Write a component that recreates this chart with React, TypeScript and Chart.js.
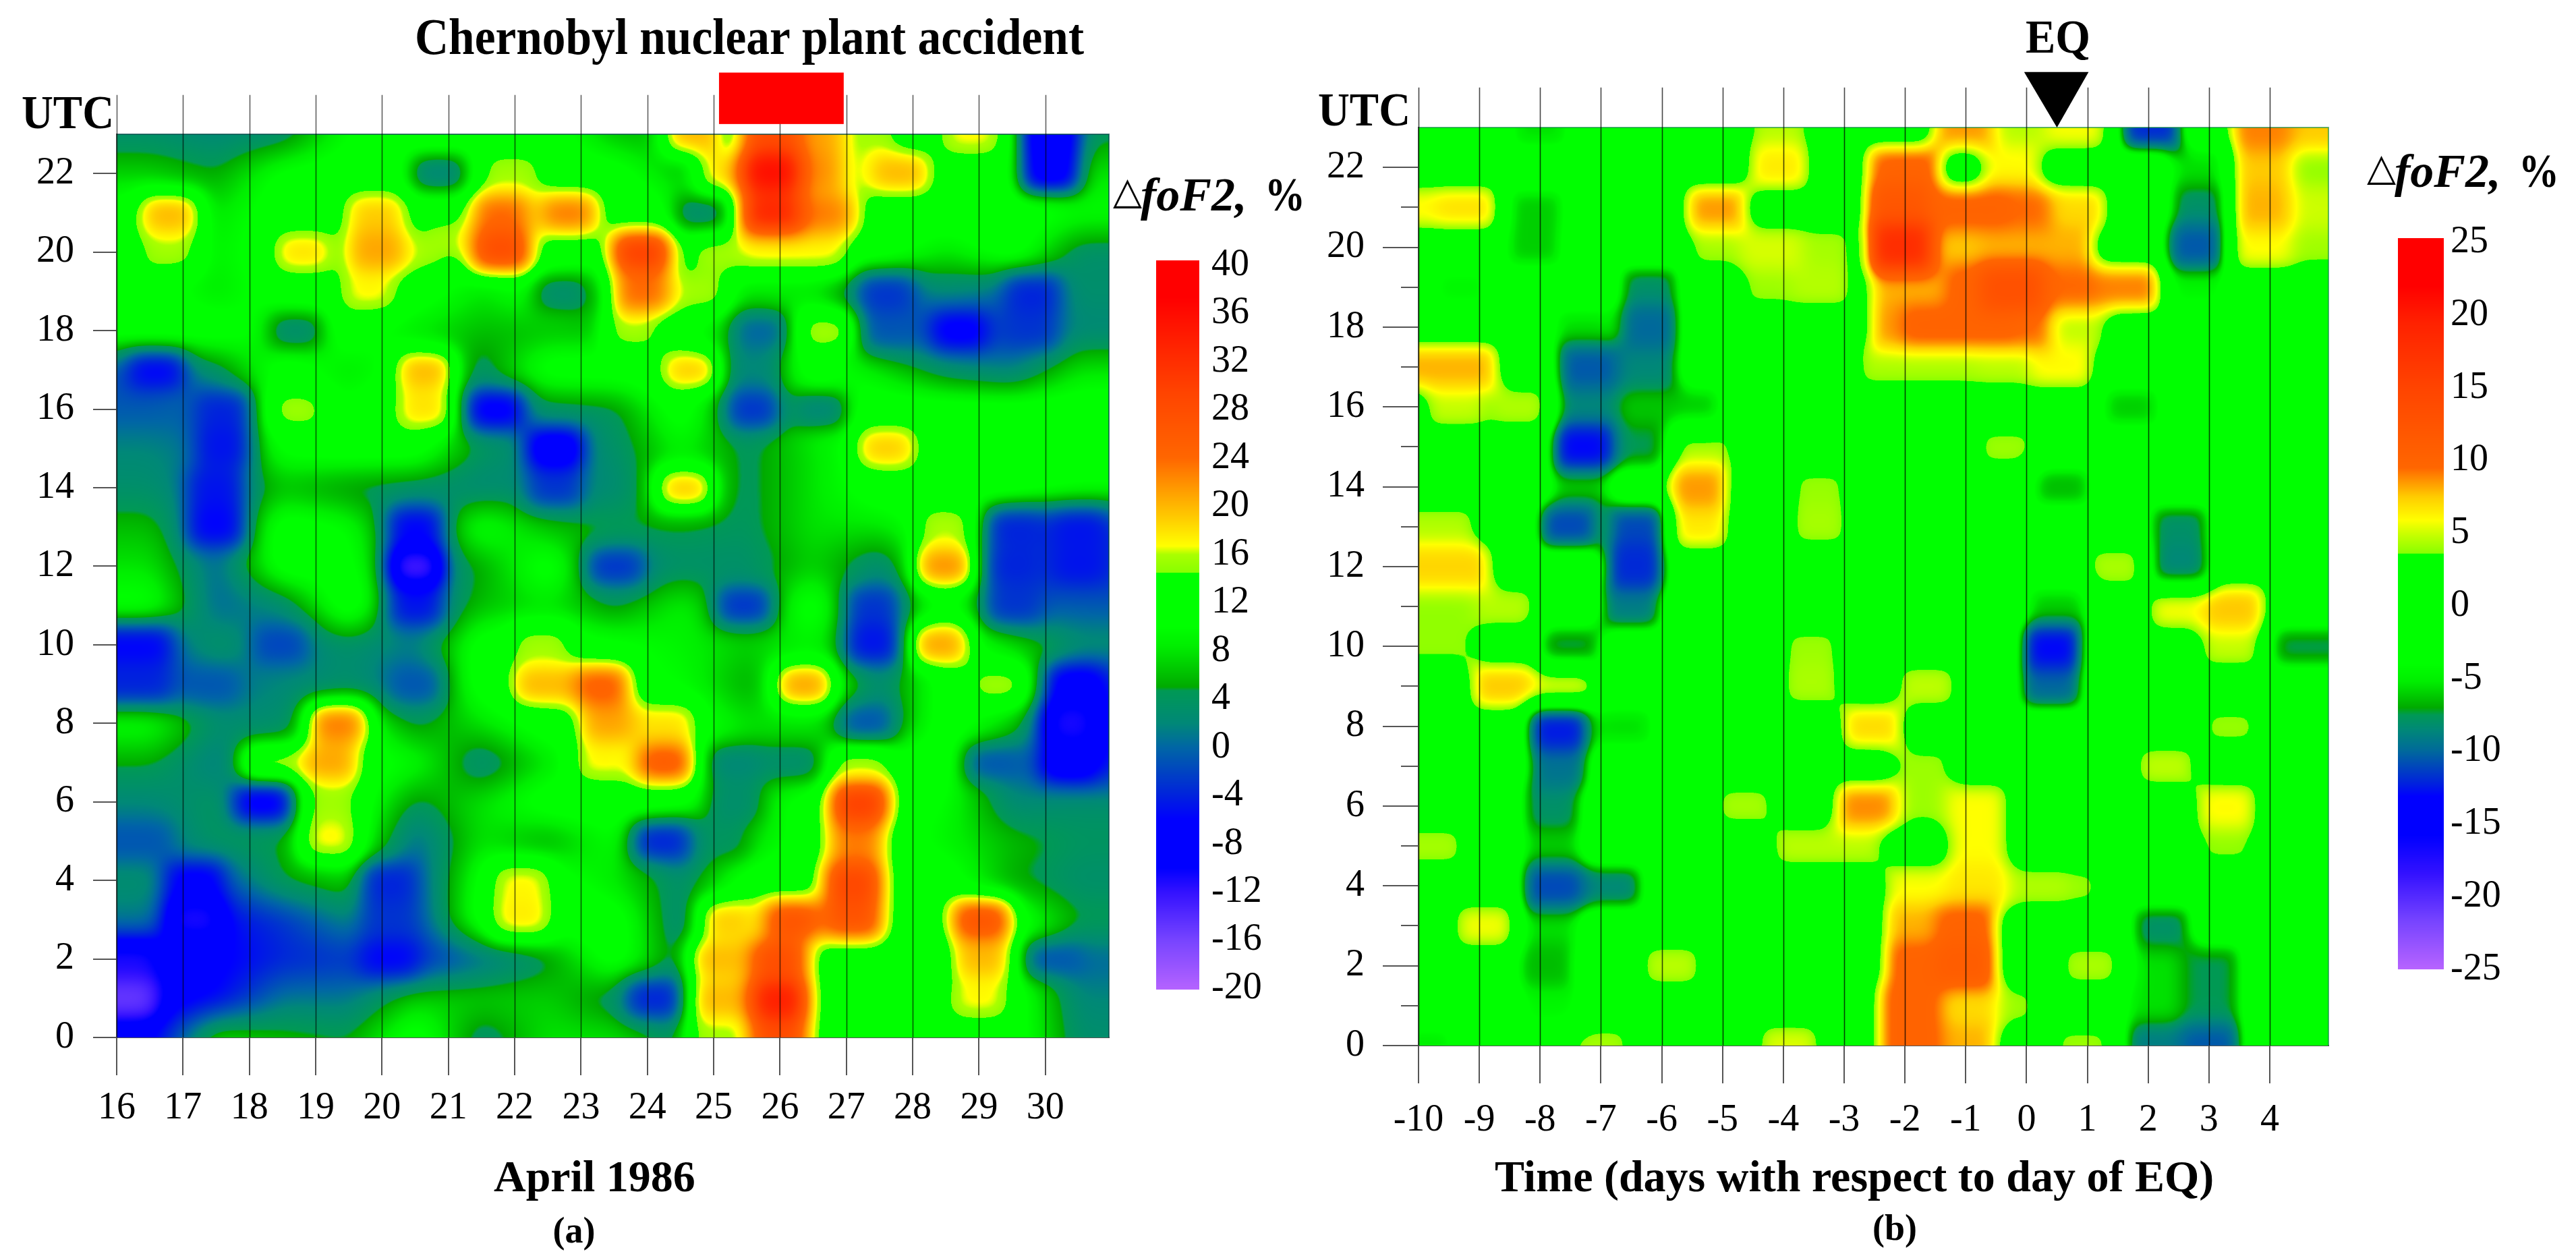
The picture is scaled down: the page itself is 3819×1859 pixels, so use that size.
import React, { useEffect, useRef } from "react";
import { Chart, registerables } from "chart.js";

Chart.register(...registerables);

const FONT = "'Liberation Serif', 'Times New Roman', serif";

// ---------- axes ----------
const daysA = [16, 17, 18, 19, 20, 21, 22, 23, 24, 25, 26, 27, 28, 29, 30];
const daysB = [-10, -9, -8, -7, -6, -5, -4, -3, -2, -1, 0, 1, 2, 3, 4];
const hourTicks = [0, 2, 4, 6, 8, 10, 12, 14, 16, 18, 20, 22];
const minorHourTicksB = [1, 3, 5, 7, 9, 11, 13, 15, 17, 19, 21];
const colorTicksA = [40, 36, 32, 28, 24, 20, 16, 12, 8, 4, 0, -4, -8, -12, -16, -20];
const colorTicksB = [25, 20, 15, 10, 5, 0, -5, -10, -15, -20, -25];

// ---------- colour scales: [value, colour] ----------
const colorStopsA: [number, string][] = [
  [-20.5, "#bb66ff"], [-16, "#7744ff"], [-12, "#3311ff"], [-10, "#0000ff"], [-6, "#0000ff"], [-4, "#0022dd"],
  [0, "#0066a5"], [2, "#008877"], [4.7, "#009955"], [5, "#00aa00"], [8.4, "#00ee00"], [10, "#00ff00"],
  [14.5, "#00ff00"], [14.51, "#88ff00"], [16, "#aaff00"], [16.7, "#ffff00"], [19, "#ffcc00"], [24, "#ff6600"],
  [29.4, "#ff4400"], [33.4, "#ff2200"], [37.3, "#ff0000"], [41, "#ff0000"],
];
const colorStopsB: [number, string][] = [
  [-25.2, "#bb66ff"], [-21.7, "#7744ff"], [-18.4, "#3311ff"], [-15.8, "#0000ff"], [-13.1, "#0000ff"], [-12.2, "#0022dd"],
  [-9.9, "#006b99"], [-8.5, "#008877"], [-7.5, "#009955"], [-7, "#00aa00"], [-5.2, "#00ee00"], [-4, "#00ff00"],
  [3.6, "#00ff00"], [3.61, "#88ff00"], [5, "#ccff00"], [5.9, "#ffff00"], [7.5, "#ffcc00"], [9.5, "#ff6600"],
  [15, "#ff4400"], [19.4, "#ff2200"], [22, "#ff0000"], [25.5, "#ff0000"],
];

// ---------- panel (a): background per hour (rows) and day (columns) ----------
const baseA = [
  [-7, 8, 6, 5, 12, 3, 8, 8, 3, 12, 12, 12, 12, 12, 3],
  [-9, -6, 1, 1, 7, 7, 7, 3, 0, 12, 12, 12, 12, 12, 2],
  [-8, -7, -4, -3, -4, 0, 4, 12, 3, 12, 12, 12, 9, 12, 0],
  [1, -6, -3, 2, -2, 12, 12, 12, 2, 12, 12, 12, 12, 12, 5],
  [3, -2, 5, 7, -1, 11, 12, 8, 3, 12, 12, 12, 12, 5, 3],
  [0, 4, 5, 12, 0, 8, 5, 10, -1, 7, 12, 12, 9, 6, 4],
  [2, 4, 2, 13, 4, 8, 12, 12, 12, 7, 12, 12, 10, 2, 3],
  [5, 1, 6, 12, 10, 2, 8, 12, 12, 6, 7, 12, 12, 1, -5],
  [10, 3, 3, 12, 4, 8, 12, 12, 12, 8, 8, 2, 12, 7, -6],
  [-1, 0, 2, 3, 0, 12, 12, 11, 10, 5, 12, 2, 12, 10, -4],
  [-2, 4, 1, 3, 1, 12, 12, 11, 9, 7, 9, 1, 12, 8, 3],
  [11, 0, 2, 13, 0, 6, 8, 4, 9, 4, 12, 0, 12, -1, -1],
  [8, 0, 12, 11, 1, 5, 12, 1, 3, 3, 7, 2, 12, -2, -3],
  [6, -1, 12, 10, 0, 11, 6, 5, 5, 4, 8, 8, 12, -2, -3],
  [3, 0, 6, 4, 3, 2, 3, 2, 9, 4, 8, 12, 12, 12, 10],
  [2, 0, 11, 12, 12, 4, 2, 3, 9, 4, 8, 12, 12, 12, 12],
  [-1, 0, 11, 11, 13, 2, 3, 4, 12, 2, 12, 12, 12, 12, 12],
  [-1, 3, 12, 8, 12, 3, 12, 12, 12, 2, 12, 8, 3, 1, 8],
  [12, 12, 9, 12, 8, 6, 6, 6, 12, 5, 12, 0, -2, -1, 2],
  [12, 8, 12, 12, 12, 8, 12, 5, 12, 8, 8, 0, 2, 0, 3],
  [12, 9, 12, 12, 12, 12, 12, 12, 12, 12, 12, 12, 8, 12, 3],
  [12, 8, 12, 12, 12, 12, 12, 12, 12, 12, 12, 12, 12, 12, 10],
  [7, 5, 11, 12, 12, 12, 12, 12, 6, 12, 12, 12, 12, 12, 8],
  [3, 2, 3, 10, 12, 12, 12, 6, 6, 12, 12, 12, 12, 12, 4],
];

// ---------- panel (a): local readings [day, hour, value] ----------
const positiveA: number[][] = [
  [16.8, 21, 20], [16.8, 20, 15.6], [18.8, 20, 18], [19.9, 21, 19], [19.9, 20, 21], [19.8, 19, 17], [20.5, 20, 15.6],
  [18.7, 16, 15.5], [20.65, 17, 20], [20.65, 16, 18], [21.8, 21, 24], [22.8, 21, 23], [21.8, 20, 28], [21.95, 22, 15.6],
  [21.1, 20.3, 15.6], [23.9, 20, 30], [23.9, 19, 24], [23.76, 18, 15.6], [24.8, 19, 15.6], [24.7, 23, 20], [25.85, 23, 28],
  [25.85, 22, 36], [25.85, 21, 33], [26.76, 21, 21], [25.85, 20, 17], [26.6, 20, 17], [25.1, 20, 15.6], [25.2, 22, 18],
  [26.5, 23, 21], [26.5, 22, 22], [26.5, 21, 23], [27.8, 22, 20], [27, 22, 15.6], [27.3, 22.8, 15.6], [28.87, 23, 17],
  [24.65, 17, 19], [24.55, 14, 19], [27.6, 15, 19], [26.7, 18, 15.7], [28.5, 13, 16], [19.32, 8, 23], [19.2, 7, 21],
  [18.3, 7, 15.5], [19.2, 6, 15.5], [19.2, 5, 17], [22.1, 4, 17], [22.1, 3, 17.5], [22.4, 10, 15.6], [22.4, 9, 20],
  [23.3, 9, 25], [23.4, 8, 21], [23.3, 7, 17], [24.3, 8, 18], [24.25, 7, 26], [26.36, 9, 21], [28.47, 12, 22], [28.4, 10, 21],
  [29.3, 9, 15.5], [27.2, 7, 15.6], [27.2, 6, 30], [27.15, 5, 23], [27.1, 4, 29], [27.1, 3, 27], [26.17, 3, 27], [25.98, 2, 28],
  [25.98, 1, 34], [25.98, 0, 28], [25.2, 3, 19], [25.05, 2, 20], [25.05, 1, 20], [25, 0, 15.6], [29.03, 3, 27], [29.03, 2, 20],
  [29, 1, 17],
];
const negativeA: number[][] = [
  [16.6, 17, -6], [17.6, 16, -4], [21.7, 16, -7], [22.6, 15, -9], [17.6, 15, -5], [17.5, 14, -5], [17.5, 13, -6], [20.5, 13, -6],
  [22.6, 14, -3], [20.85, 22, 2], [18.7, 18, 3], [22.7, 19, 3], [24.8, 21, 3], [25.7, 18, 0], [25.6, 17, 2], [25.6, 16, -3],
  [26.6, 16, 2], [27.6, 19, -3], [29.8, 19, -4], [28.7, 18, -7], [27.6, 18, -1], [29.75, 18, -3], [29.55, 13, -4], [30.5, 13, -5],
  [20.5, 12, -13], [20.5, 11, -5], [16.4, 10, -6], [16.4, 9, -4], [18.45, 10, -2], [17.4, 9, -1], [18.2, 6, -7], [23.5, 12, -3],
  [24.2, 5, -4], [27.4, 11, -3], [27.4, 10, -5], [27.3, 8, -1], [29.5, 12, -4], [30.5, 12, -5], [29.5, 11, -3], [30.45, 9, -8],
  [30.35, 8, -11], [30.35, 7, -9], [29.2, 7, -1], [25.45, 11, -3], [24.1, 1, -4], [30.1, 2, -1], [17.16, 4, -7], [17.16, 3, -11],
  [16.2, 1, -15], [16.2, 2, -11], [20.1, 2, -6], [20.1, 4, -4], [20.1, 3, -3], [20.5, 9, -1], [16.4, 5, -1], [30.06, 23, -9],
  [30.06, 22, -8], [25.3, 7, 2], [25.3, 6, 3], [26.2, 7, 3], [25.1, 5, 4],
];

// ---------- panel (b): level away from the local readings, and the readings ----------
const levelB = 0;
const positiveB: number[][] = [
  [-9.7, 21, 6], [-9.2, 21, 6.8], [-5.1, 21, 8.5], [-4.07, 22, 6.5], [-4.07, 23, 4.5], [-5.06, 20, 4.2], [-4.2, 20, 5.2], [-3.35, 20, 4.2],
  [-3.35, 19, 4.5], [-4.2, 19, 4.0], [-9.8, 17, 8], [-9.2, 17, 8], [-9.4, 16, 4.8], [-8.35, 16, 4.4], [-5.4, 14, 8.5], [-5.4, 13, 6.5],
  [-5.3, 15, 4.2], [-3.4, 14, 3.9], [-3.4, 13, 4.2], [-9.55, 13, 4.4], [-9.7, 12, 7.2], [-9.3, 12, 7.2], [-9.55, 11, 3.8], [-9.55, 10, 3.8],
  [-8.56, 11, 4.5], [-8.63, 9, 7.5], [-7.63, 9, 5.3], [-9.75, 5, 4.2], [-8.9, 3, 5.7], [-5.85, 2, 4.6], [-7, 0, 4.2], [-3.9, 0, 5.3],
  [-4.65, 6, 4.2], [-3.7, 5, 4.6], [-2.85, 5, 4.6], [-2.65, 6, 8.8], [-2.55, 8, 7], [-3.55, 10, 4], [-3.55, 9, 4.3], [-1.65, 9, 4.7],
  [-1.7, 7, 4], [-1.7, 6, 4], [-0.83, 6, 5.9], [-0.83, 5, 5.9], [-0.83, 4, 6.6], [-1.83, 4, 5.8], [0.18, 4, 4.4], [0.75, 4, 3.9],
  [-1.83, 3, 8], [-0.97, 3, 10], [-1.83, 2, 10], [-0.97, 2, 11], [-1.93, 1, 10], [-0.97, 1, 7], [-0.32, 1, 4], [-1.93, 0, 10], [-0.97, 0, 8],
  [-2.14, 22, 9.5], [-1.9, 22, 10], [-2.14, 21, 12], [-2.07, 20, 18], [-2.07, 19, 8], [-2.07, 18, 8.5], [-1.4, 21, 10], [-0.83, 21, 10],
  [-0.1, 21, 9.5], [-1.04, 20, 7.5], [-0.25, 20, 8], [0.6, 20, 8], [-1.4, 19, 8], [-0.25, 19, 13], [-0.83, 19, 10], [0.6, 19, 9.5],
  [1.7, 19, 9], [1.1, 19, 9], [-1.55, 18, 10], [-0.68, 18, 10], [-0.1, 18, 9.5], [0.83, 21, 7], [0.83, 18, 4.7], [0.6, 17, 6],
  [-1.3, 17, 4.3], [-0.32, 17, 4.6], [-2.3, 17, 4.3], [-1.04, 23, 8.5], [-0.1, 23, 4.5], [0.83, 23, 5.8], [-0.25, 22, 6],
  [3.85, 23, 9], [4.5, 23, 7.5], [3.85, 22, 7.5], [3.85, 21, 8], [3.85, 20, 5.9], [4.64, 22, 3.8], [4.64, 21, 5], [4.64, 20, 4.1],
  [-0.36, 15, 4], [1.47, 12, 4.3], [2.5, 11, 5.8], [3.4, 11, 7.6], [3.35, 10, 4.8], [3.35, 8, 3.9], [2.27, 7, 4.7], [3.27, 6, 6],
  [3.27, 5, 3.8], [1.04, 2, 4.3], [0.93, 0, 4],
];
const negativeB: number[][] = [
  [-8.06, 21, -6], [-8.1, 20, -6], [-8, 23, -5.5], [-9.3, 19, -4.5], [-6.2, 19, -8], [-6.2, 18, -10], [-6.2, 17, -8.5], [-7.24, 17, -10.5],
  [-7.24, 16, -8.5], [-7.3, 15, -13], [-6.4, 15, -7.5], [-6.3, 16, -6.2], [-5.5, 16, -6], [-7.3, 18, -5.5], [-7.35, 14, -6], [-7.55, 13, -11],
  [-6.4, 13, -11], [-6.45, 12, -12], [-6.5, 11, -9], [-7.5, 10, -7.5], [-7.7, 8, -12.5], [-7.7, 7, -9.5], [-7.8, 6, -8], [-7.8, 5, -6],
  [-7.8, 4, -11], [-6.8, 4, -8.5], [-7.85, 3, -5.5], [-7.9, 2, -6.5], [-6.6, 8, -5.5], [-7.85, 1, -4.5], [2.05, 23, -12], [2.84, 22, -5.5],
  [2.84, 21, -8], [2.77, 20, -10.5], [2.77, 19, -4.5], [1.7, 16, -6], [0.57, 14, -6.5], [2.5, 13, -8], [2.5, 12, -8.5], [4.5, 10, -7.5],
  [0.43, 10, -13], [0.4, 9, -10], [0.5, 11, -6], [2.2, 3, -8], [3.05, 2, -7.5], [3.05, 1, -7.5], [2.1, 1, -5.5], [2.2, 2, -5.5],
  [2.1, 0, -9], [3.05, 0, -10.5], [-9.9, 0, -5],
];

// ---------- annotation positions in data units ----------
const accidentBand = [25.08, 26.96, 23.26, 24.57];
const eqMarker = [-0.04, 1.02, 0.5, 24.39, 23];

// ---------- layout (page pixels) ----------
const PANEL_A = {
  canvas: [0, 0, 1945, 1859], plot: [173, 199, 1644, 1538], xMin: 16, xMax: 30.958, days: daysA, base: baseA, level: 12,
  pos: positiveA, neg: negativeA, stops: colorStopsA, yTick: 35, xTick: 56, ytp: 28, xtp: 16, hw: 0.42, hh: 0.46, blurX: 16, blurY: 15,
  line: "rgba(0,0,0,0.62)", frame: "rgba(0,70,70,0.7)",
};
const PANEL_B = {
  canvas: [1945, 0, 1874, 1859], plot: [2103, 189, 3452, 1550], xMin: -10, xMax: 4.965, days: daysB, base: null as number[][] | null, level: levelB,
  pos: positiveB, neg: negativeB, stops: colorStopsB, yTick: 53, xTick: 56, ytp: 27, xtp: 22, hw: 0.5, hh: 0.55, blurX: 13, blurY: 14,
  line: "rgba(0,0,0,0.72)", frame: "rgba(0,130,60,0.6)",
};

function hexToRgb(h: string) {
  return [parseInt(h.slice(1, 3), 16), parseInt(h.slice(3, 5), 16), parseInt(h.slice(5, 7), 16)];
}
function colorAt(stops: [number, string][], v: number) {
  if (v <= stops[0][0]) return hexToRgb(stops[0][1]);
  for (let i = 1; i < stops.length; i++) {
    if (v <= stops[i][0]) {
      const a = hexToRgb(stops[i - 1][1]);
      const b = hexToRgb(stops[i][1]);
      const t = (v - stops[i - 1][0]) / (stops[i][0] - stops[i - 1][0]);
      return [a[0] + (b[0] - a[0]) * t, a[1] + (b[1] - a[1]) * t, a[2] + (b[2] - a[2]) * t];
    }
  }
  return hexToRgb(stops[stops.length - 1][1]);
}

function baseValue(p: any, x: number, y: number) {
  if (!p.base) return p.level;
  const cx = Math.max(0, Math.min(14, x - p.xMin - 0.5));
  const cy = Math.max(0, Math.min(23, y));
  const i = Math.min(13, Math.floor(cx));
  const j = Math.min(22, Math.floor(cy));
  const u = cx - i;
  const w = cy - j;
  const r0 = p.base[j];
  const r1 = p.base[j + 1];
  return (r0[i] * (1 - u) + r0[i + 1] * u) * (1 - w) + (r1[i] * (1 - u) + r1[i + 1] * u) * w;
}

function gaussian(sigma: number) {
  const r = Math.ceil(sigma * 3);
  const k: number[] = [];
  let sum = 0;
  for (let i = -r; i <= r; i++) {
    const g = Math.exp(-(i * i) / (2 * sigma * sigma));
    k.push(g);
    sum += g;
  }
  return k.map((g) => g / sum);
}

function blur(src: Float32Array, w: number, h: number, sx: number, sy: number) {
  const kx = gaussian(sx);
  const ky = gaussian(sy);
  const rx = (kx.length - 1) / 2;
  const ry = (ky.length - 1) / 2;
  const tmp = new Float32Array(w * h);
  const out = new Float32Array(w * h);
  for (let y = 0; y < h; y++) {
    for (let x = 0; x < w; x++) {
      let s = 0;
      for (let i = -rx; i <= rx; i++) {
        const xx = x + i < 0 ? 0 : x + i >= w ? w - 1 : x + i;
        s += src[y * w + xx] * kx[i + rx];
      }
      tmp[y * w + x] = s;
    }
  }
  for (let y = 0; y < h; y++) {
    for (let x = 0; x < w; x++) {
      let s = 0;
      for (let i = -ry; i <= ry; i++) {
        const yy = y + i < 0 ? 0 : y + i >= h ? h - 1 : y + i;
        s += tmp[yy * w + x] * ky[i + ry];
      }
      out[y * w + x] = s;
    }
  }
  return out;
}

const heatPlugin = (p: any) => ({
  id: "heat",
  beforeDatasetsDraw(chart: any) {
    const { ctx, chartArea: ca, scales } = chart;
    const W = Math.round(ca.right - ca.left);
    const H = Math.round(ca.bottom - ca.top);
    const S = 3;
    const cw = Math.ceil(W / S) + 2;
    const ch = Math.ceil(H / S) + 2;
    const bgrid = new Float32Array(cw * ch);
    for (let j = 0; j < ch; j++) {
      const yv = scales.y.getValueForPixel(ca.top + j * S);
      for (let i = 0; i < cw; i++) {
        bgrid[j * cw + i] = baseValue(p, scales.x.getValueForPixel(ca.left + i * S), yv);
      }
    }
    const hot = bgrid.slice();
    const cold = bgrid.slice();
    const stamp = (s: number[]) => {
      const i0 = Math.max(0, Math.round((scales.x.getPixelForValue(s[0] - p.hw) - ca.left) / S));
      const i1 = Math.min(cw - 1, Math.round((scales.x.getPixelForValue(s[0] + p.hw) - ca.left) / S));
      const j0 = Math.max(0, Math.round((scales.y.getPixelForValue(s[1] + p.hh) - ca.top) / S));
      const j1 = Math.min(ch - 1, Math.round((scales.y.getPixelForValue(s[1] - p.hh) - ca.top) / S));
      for (let j = j0; j <= j1; j++) {
        for (let i = i0; i <= i1; i++) {
          const o = j * cw + i;
          if (s[2] > hot[o]) hot[o] = s[2];
          if (s[2] < cold[o]) cold[o] = s[2];
        }
      }
    };
    p.pos.forEach(stamp);
    p.neg.forEach(stamp);
    const merged = new Float32Array(cw * ch);
    for (let o = 0; o < merged.length; o++) merged[o] = hot[o] + cold[o] - bgrid[o];
    const coarse = blur(merged, cw, ch, p.blurX / S, p.blurY / S);

    const lutN = 2048;
    const lo = p.stops[0][0];
    const hi = p.stops[p.stops.length - 1][0];
    const lut = new Uint8ClampedArray(lutN * 3);
    for (let i = 0; i < lutN; i++) {
      const c = colorAt(p.stops, lo + ((hi - lo) * i) / (lutN - 1));
      lut[i * 3] = c[0];
      lut[i * 3 + 1] = c[1];
      lut[i * 3 + 2] = c[2];
    }
    const img = ctx.createImageData(W, H);
    for (let y = 0; y < H; y++) {
      const fy = y / S;
      const jy = Math.floor(fy);
      const ty = fy - jy;
      for (let x = 0; x < W; x++) {
        const fx = x / S;
        const ix = Math.floor(fx);
        const tx = fx - ix;
        const a = coarse[jy * cw + ix];
        const b = coarse[jy * cw + ix + 1];
        const c = coarse[(jy + 1) * cw + ix];
        const d = coarse[(jy + 1) * cw + ix + 1];
        const v = (a * (1 - tx) + b * tx) * (1 - ty) + (c * (1 - tx) + d * tx) * ty;
        const q = Math.max(0, Math.min(lutN - 1, Math.round(((v - lo) / (hi - lo)) * (lutN - 1))));
        const o = (y * W + x) * 4;
        img.data[o] = lut[q * 3];
        img.data[o + 1] = lut[q * 3 + 1];
        img.data[o + 2] = lut[q * 3 + 2];
        img.data[o + 3] = 255;
      }
    }
    ctx.putImageData(img, Math.round(ca.left), Math.round(ca.top));
  },
});

function txt(ctx: any, s: string, x: number, base: number, font: string, w?: number, align = "left") {
  ctx.font = font;
  ctx.textAlign = align;
  ctx.textBaseline = "alphabetic";
  ctx.fillStyle = "#000";
  if (w) ctx.fillText(s, x, base, w);
  else ctx.fillText(s, x, base);
}

function deltaLabel(ctx: any, ox: number, x: number, base: number) {
  txt(ctx, "\u25B3", x - 3 - ox, base - 10, `56px 'DejaVu Sans'`);
  txt(ctx, "foF2,", x + 38 - ox, base, `italic bold 70px ${FONT}`, 165);
  txt(ctx, "%", x + 222 - ox, base, `bold 70px ${FONT}`, 60);
}

const overlayPlugin = (p: any, isA: boolean) => ({
  id: "overlay",
  afterDatasetsDraw(chart: any) {
    const { ctx, chartArea: ca, scales } = chart;
    const ox = p.canvas[0];
    ctx.save();
    ctx.strokeStyle = p.frame;
    ctx.lineWidth = 2;
    ctx.beginPath();
    ctx.moveTo(ca.left, ca.top);
    ctx.lineTo(ca.right, ca.top);
    ctx.lineTo(ca.right, ca.bottom);
    ctx.stroke();
    ctx.strokeStyle = p.line;
    ctx.lineWidth = 1.6;
    const top = scales.y.getPixelForValue(24);
    p.days.forEach((d: number) => {
      const x = Math.round(scales.x.getPixelForValue(d)) + 0.5;
      ctx.beginPath();
      ctx.moveTo(x, top);
      ctx.lineTo(x, ca.bottom);
      ctx.stroke();
    });
    if (!isA) {
      ctx.strokeStyle = "#555";
      ctx.lineWidth = 2;
      minorHourTicksB.forEach((h) => {
        const y = Math.round(scales.y.getPixelForValue(h));
        ctx.beginPath();
        ctx.moveTo(ca.left - 26, y);
        ctx.lineTo(ca.left, y);
        ctx.stroke();
      });
    }
    if (isA) {
      ctx.fillStyle = "#ff0000";
      const x0 = scales.x.getPixelForValue(accidentBand[0]);
      const x1 = scales.x.getPixelForValue(accidentBand[1]);
      const y0 = scales.y.getPixelForValue(accidentBand[3]);
      const y1 = scales.y.getPixelForValue(accidentBand[2]);
      ctx.fillRect(x0, y0, x1 - x0, y1 - y0);
      txt(ctx, "Chernobyl nuclear plant accident", 615, 80, `bold 76px ${FONT}`, 992);
      txt(ctx, "UTC", 32, 190, `bold 70px ${FONT}`, 137);
      deltaLabel(ctx, ox, 1653, 312);
      txt(ctx, "April 1986", 732, 1766, `bold 66px ${FONT}`, 302);
      txt(ctx, "(a)", 851, 1842, `bold 54px ${FONT}`, 66, "center");
    } else {
      ctx.fillStyle = "#000";
      ctx.beginPath();
      ctx.moveTo(scales.x.getPixelForValue(eqMarker[0]), scales.y.getPixelForValue(eqMarker[3]));
      ctx.lineTo(scales.x.getPixelForValue(eqMarker[1]), scales.y.getPixelForValue(eqMarker[3]));
      ctx.lineTo(scales.x.getPixelForValue(eqMarker[2]), scales.y.getPixelForValue(eqMarker[4]));
      ctx.closePath();
      ctx.fill();
      txt(ctx, "EQ", 3003 - ox, 78, `bold 70px ${FONT}`, 96);
      txt(ctx, "UTC", 1954 - ox, 186, `bold 70px ${FONT}`, 137);
      deltaLabel(ctx, ox, 3512, 277);
      txt(ctx, "Time (days with respect to day of EQ)", 2216 - ox, 1766, `bold 66px ${FONT}`, 1088);
      txt(ctx, "(b)", 2809 - ox, 1838, `bold 54px ${FONT}`, 66, "center");
    }
    ctx.restore();
  },
});

function makePanel(canvas: HTMLCanvasElement, p: any, isA: boolean) {
  const [cx, cy, cw, ch] = p.canvas;
  const [l, t, r, b] = p.plot;
  const tickFont = { family: FONT, size: 56 };
  return new Chart(canvas, {
    type: "scatter",
    data: {
      datasets: [
        { data: p.pos.concat(p.neg).map((s: number[]) => ({ x: s[0], y: s[1], v: s[2] })), pointRadius: 0 } as any,
      ],
    },
    options: {
      animation: false,
      responsive: false,
      devicePixelRatio: 1,
      events: [],
      layout: { padding: { left: 0, top: t - cy, right: cx + cw - r, bottom: 0 } },
      plugins: { legend: { display: false }, tooltip: { enabled: false } },
      scales: {
        x: {
          type: "linear",
          min: p.xMin,
          max: p.xMax,
          afterBuildTicks: (s: any) => { s.ticks = p.days.map((v: number) => ({ value: v })); },
          afterFit: (s: any) => { s.height = cy + ch - b; },
          grid: { drawOnChartArea: false, drawTicks: true, tickLength: p.xTick, tickColor: "#555", lineWidth: 2 },
          border: { display: true, color: "#555", width: 2 },
          ticks: { font: tickFont, color: "#000", padding: p.xtp, maxRotation: 0, minRotation: 0, autoSkip: false, callback: (v: any) => String(v) },
        },
        y: {
          type: "linear",
          min: 0,
          max: 23,
          afterBuildTicks: (s: any) => { s.ticks = hourTicks.map((v) => ({ value: v })); },
          afterFit: (s: any) => { s.width = l - cx; },
          grid: { drawOnChartArea: false, drawTicks: true, tickLength: p.yTick, tickColor: "#555", lineWidth: 2 },
          border: { display: true, color: "#555", width: 2 },
          ticks: { font: tickFont, color: "#000", padding: p.ytp, autoSkip: false, callback: (v: any) => String(v) },
        },
      },
    } as any,
    plugins: [heatPlugin(p), overlayPlugin(p, isA)] as any,
  });
}

function makeColorbar(canvas: HTMLCanvasElement, c: any) {
  const [cx, cy, cw, ch] = c.canvas;
  const [l, t, r, b] = c.bar;
  return new Chart(canvas, {
    type: "scatter",
    data: { datasets: [{ data: c.ticks.map((v: number) => ({ x: 0, y: v })), pointRadius: 0 } as any] },
    options: {
      animation: false,
      responsive: false,
      devicePixelRatio: 1,
      events: [],
      layout: { padding: { left: l - cx, top: t - cy, right: 0, bottom: cy + ch - b } },
      plugins: { legend: { display: false }, tooltip: { enabled: false } },
      scales: {
        x: { type: "linear", display: false, min: 0, max: 1 },
        y: {
          type: "linear",
          position: "right",
          min: c.min,
          max: c.max,
          afterBuildTicks: (s: any) => { s.ticks = c.ticks.map((v: number) => ({ value: v })); },
          afterFit: (s: any) => { s.width = cx + cw - r; },
          grid: { display: false },
          border: { display: false },
          ticks: { font: { family: FONT, size: 56 }, color: "#000", padding: c.pad, autoSkip: false, callback: (v: any) => String(v) },
        },
      },
    } as any,
    plugins: [
      {
        id: "bar",
        beforeDatasetsDraw(chart: any) {
          const { ctx, chartArea: ca, scales } = chart;
          for (let y = Math.round(ca.top); y < Math.round(ca.bottom); y++) {
            const col = colorAt(c.stops, scales.y.getValueForPixel(y + 0.5));
            ctx.fillStyle = `rgb(${Math.round(col[0])},${Math.round(col[1])},${Math.round(col[2])})`;
            ctx.fillRect(ca.left, y, ca.right - ca.left, 1);
          }
        },
      },
    ] as any,
  });
}

const BAR_A = { canvas: [1700, 340, 190, 1180], bar: [1714, 386, 1778, 1467], min: -20.1, max: 40.4, ticks: colorTicksA, stops: colorStopsA, pad: 10 };
const BAR_B = { canvas: [3540, 310, 230, 1180], bar: [3555, 353, 3623, 1437], min: -25, max: 25.3, ticks: colorTicksB, stops: colorStopsB, pad: 2 };

const box = (c: number[]): React.CSSProperties => ({ position: "absolute", left: c[0], top: c[1], width: c[2], height: c[3], display: "block" });

export default function App() {
  const a = useRef<HTMLCanvasElement>(null);
  const b = useRef<HTMLCanvasElement>(null);
  const ca = useRef<HTMLCanvasElement>(null);
  const cb = useRef<HTMLCanvasElement>(null);
  useEffect(() => {
    document.body.style.margin = "0";
    document.body.style.background = "#fff";
    const charts = [
      makePanel(a.current!, PANEL_A, true),
      makePanel(b.current!, PANEL_B, false),
      makeColorbar(ca.current!, BAR_A),
      makeColorbar(cb.current!, BAR_B),
    ];
    return () => charts.forEach((c) => c.destroy());
  }, []);
  return (
    <div style={{ position: "relative", width: 3819, height: 1859, background: "#fff", overflow: "hidden" }}>
      <canvas ref={a} width={PANEL_A.canvas[2]} height={PANEL_A.canvas[3]} style={box(PANEL_A.canvas)} />
      <canvas ref={b} width={PANEL_B.canvas[2]} height={PANEL_B.canvas[3]} style={box(PANEL_B.canvas)} />
      <canvas ref={ca} width={BAR_A.canvas[2]} height={BAR_A.canvas[3]} style={box(BAR_A.canvas)} />
      <canvas ref={cb} width={BAR_B.canvas[2]} height={BAR_B.canvas[3]} style={box(BAR_B.canvas)} />
    </div>
  );
}
